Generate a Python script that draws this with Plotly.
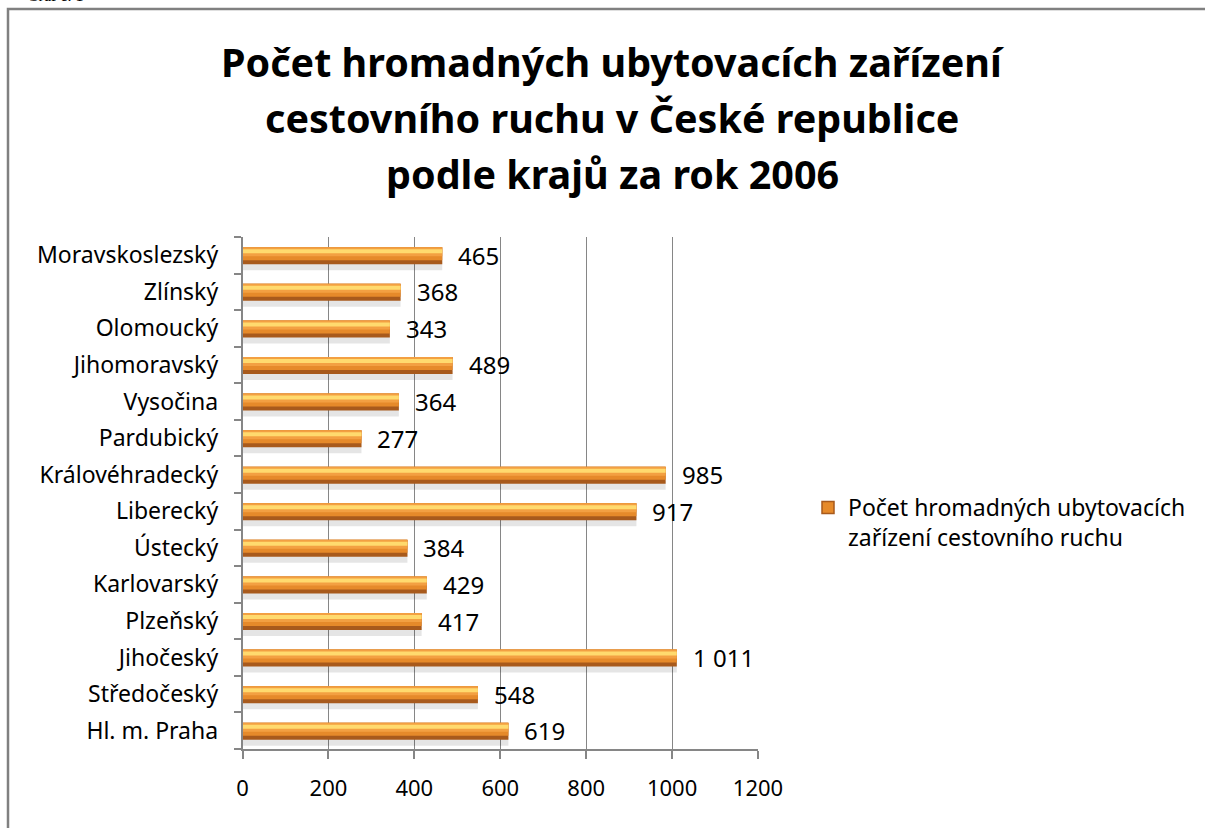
import plotly.graph_objects as go

# ---- data (bottom to top, as drawn) ----
regions = ["Hl. m. Praha", "Středočeský", "Jihočeský", "Plzeňský", "Karlovarský",
           "Ústecký", "Liberecký", "Královéhradecký", "Pardubický", "Vysočina",
           "Jihomoravský", "Olomoucký", "Zlínský", "Moravskoslezský"]
counts = [619, 548, 1011, 417, 429, 384, 917, 985, 277, 364, 489, 343, 368, 465]
x_ticks = [0, 200, 400, 600, 800, 1000, 1200]

series_name = "Počet hromadných ubytovacích<br>zařízení cestovního ruchu"
title_lines = ["Počet hromadných ubytovacích zařízení",
               "cestovního ruchu v České republice",
               "podle krajů za rok 2006"]

FONT = "Noto Sans"
W, H = 1205, 828
PX = 36.57  # pixels per category slot

def u(px):
    return px / PX

labels = [f"{v:,}".replace(",", "\u00a0") for v in counts]

fig = go.Figure()

# layered bars to imitate the bevelled/gradient look
layers = [
    # (offset_px, height_px, color)
    (-15, 9, "rgba(0,0,0,0.10)"),   # soft shadow
    (-9, 17, "#A85A1C"),            # dark base / bottom edge
    (-5, 13, "#E68A2A"),            # orange body
    (-1, 9, "#F3A042"),             # lighter orange
    (2, 4, "#FFDA6E"),              # highlight stripe
]
for off, hgt, col in layers:
    fig.add_trace(go.Bar(
        x=counts, y=regions, orientation="h",
        offset=u(off), width=u(hgt),
        marker=dict(color=col, line=dict(width=0)),
        showlegend=False, hoverinfo="skip",
    ))

# legend entry for the series
fig.add_trace(go.Bar(
    x=[None], y=[regions[0]], orientation="h",
    name=series_name,
    marker=dict(color="#E68A2A", line=dict(color="#A85A1C", width=1.5)),
    showlegend=True,
))

# data labels
for r, v, t in zip(regions, counts, labels):
    fig.add_annotation(x=v, y=r, text=t, xanchor="left", yanchor="middle",
                       xshift=14, showarrow=False,
                       font=dict(family=FONT, size=24, color="#000000"))

# title lines
title_y = [62, 118, 174]
for line, yp in zip(title_lines, title_y):
    fig.add_annotation(x=612 / W, y=1 - yp / H, xref="paper", yref="paper",
                       text=f"<b>{line}</b>", showarrow=False,
                       xanchor="center", yanchor="middle",
                       font=dict(family=FONT, size=39.5, color="#000000"))

# cropped caption at very top
fig.add_annotation(x=25 / W, y=1 - 6 / H, xref="paper", yref="paper",
                   text="Graf č. 1", showarrow=False, xanchor="left", yanchor="bottom",
                   font=dict(family="Liberation Serif", size=16, color="#000000"))

# outer chart border
fig.add_shape(type="rect", xref="paper", yref="paper",
              x0=8 / W, x1=1.1, y0=-0.1, y1=1 - 9 / H,
              line=dict(color="#808080", width=2.5), fillcolor="rgba(0,0,0,0)")

fig.update_layout(
    width=W, height=H,
    margin=dict(l=0, r=0, t=0, b=0, autoexpand=False),
    paper_bgcolor="white", plot_bgcolor="white",
    barmode="overlay",
    font=dict(family=FONT, size=23, color="#000000"),
    showlegend=True,
    legend=dict(x=808 / W, y=1 - 486 / H, xanchor="left", yanchor="top",
                valign="top", font=dict(family=FONT, size=23, color="#000000"),
                bgcolor="rgba(0,0,0,0)"),
    xaxis=dict(domain=[242.5 / W, 758 / W], range=[0, 1200],
               tickmode="array", tickvals=x_ticks,
               ticktext=[str(t) for t in x_ticks],
               showgrid=True, gridcolor="#868686", gridwidth=1.2,
               showline=True, linecolor="#868686", linewidth=1.5,
               ticks="outside", ticklen=8, tickcolor="#868686", tickwidth=1.5,
               zeroline=False, ticklabelstandoff=11,
               tickfont=dict(family=FONT, size=22, color="#000000")),
    yaxis=dict(domain=[1 - 749 / H, 1 - 237 / H], type="category",
               categoryorder="array", categoryarray=regions,
               range=[-0.5, len(regions) - 0.5],
               showgrid=False, showline=True, linecolor="#868686", linewidth=1.5,
               ticks="outside", tickson="boundaries", ticklen=7,
               tickcolor="#868686", tickwidth=1.5, ticklabelstandoff=18,
               tickfont=dict(family=FONT, size=23, color="#000000")),
)

fig.write_html("out.html", config={"displayModeBar": False},
               post_script="document.body.style.margin='0';")
